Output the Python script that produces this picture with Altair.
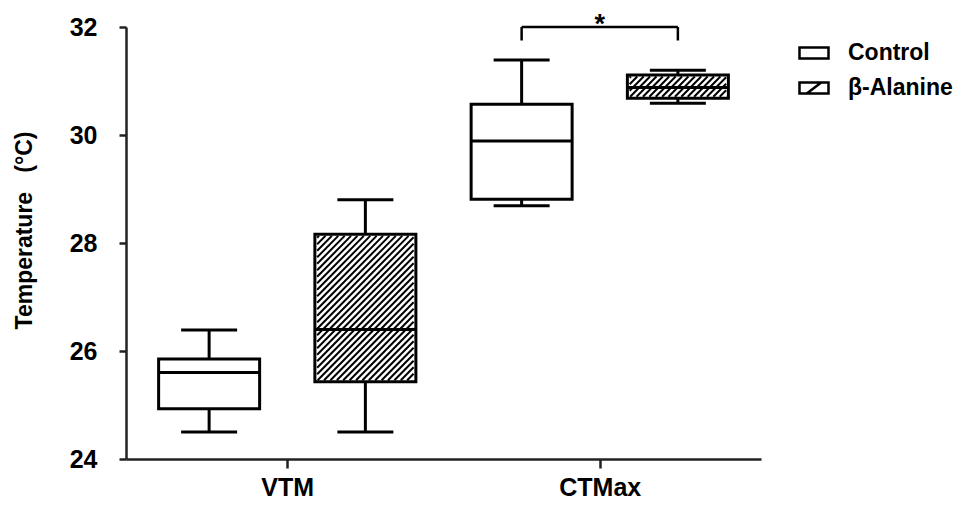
import altair as alt
import pandas as pd

# ---- data ----
tests = ["VTM", "VTM", "CTMax", "CTMax"]
groups = ["Control", "β-Alanine", "Control", "β-Alanine"]
positions = [1, 2, 3, 4]
whisker_low = [24.5, 24.5, 28.69, 30.59]
q1 = [24.93, 25.43, 28.81, 30.68]
median = [25.6, 26.4, 29.89, 30.88]
q3 = [25.85, 28.16, 30.57, 31.11]
whisker_high = [26.39, 28.8, 31.39, 31.2]

test_labels = ["VTM", "CTMax"]
test_label_positions = [1.5, 3.5]
legend_groups = ["Control", "β-Alanine"]
y_ticks = [24, 26, 28, 30, 32]
y_title = "Temperature\u00a0\u00a0\u00a0(°C)"

bracket_x = [3, 4]
bracket_top = 32.0
bracket_tip = 31.75
sig_label = "*"

# ---- layout ----
W, H = 635, 432
XDOM = [0.5, 4.5]
YDOM = [24, 32]
BOX_W = 101
CAP_W = 56
FONT = "Liberation Sans"

df = pd.DataFrame(dict(test=tests, group=groups, pos=positions, lo=whisker_low,
                       q1=q1, med=median, q3=q3, hi=whisker_high))

# hatch segments for the beta-alanine boxes (45 degree lines clipped to the box)
sx = W / (XDOM[1] - XDOM[0])
sy = H / (YDOM[1] - YDOM[0])
rows = []
for p, g, lo, hi in zip(positions, groups, q1, q3):
    if g != "β-Alanine":
        continue
    xl, xr = -BOX_W / 2 + 1.5, BOX_W / 2 - 1.5
    yb = (lo - YDOM[0]) * sy + 1.5
    yt = (hi - YDOM[0]) * sy - 1.5
    c = yb - xr
    while c < yt - xl:
        s = max(xl, yb - c)
        e = min(xr, yt - c)
        if e > s:
            rows.append(dict(x=p + s / sx, y=YDOM[0] + (s + c) / sy,
                             x2=p + e / sx, y2=YDOM[0] + (e + c) / sy))
        c += 6.5
hatch = pd.DataFrame(rows)

xs = alt.Scale(domain=XDOM, nice=False, zero=False)
ys = alt.Scale(domain=YDOM, nice=False, zero=False)

label_expr = " : ".join(
    f"datum.value == {v} ? '{t}'" for v, t in zip(test_label_positions[:-1], test_labels[:-1])
) + f" : '{test_labels[-1]}'"

x_enc = alt.X("pos:Q", scale=xs, axis=alt.Axis(
    values=test_label_positions, labelExpr=label_expr, title=None,
    tickSize=9, labelPadding=7, labelFontSize=25, grid=False))
y_axis = alt.Axis(values=y_ticks, format="d", title=y_title,
                  tickSize=7, labelPadding=22, labelFontSize=25, grid=False,
                  titleFontSize=23, titleX=-102, titleY=203, titleBaseline="middle")

base = alt.Chart(df)

whiskers = base.mark_rule(color="black", strokeWidth=3).encode(
    x=x_enc, y=alt.Y("lo:Q", scale=ys, axis=y_axis), y2="hi:Q")

boxes = base.mark_bar(size=BOX_W, fill="white", stroke="black", strokeWidth=3,
                      opacity=1).encode(x=alt.X("pos:Q", scale=xs),
                                        y=alt.Y("q1:Q", scale=ys), y2="q3:Q")

hatch_layer = alt.Chart(hatch).mark_rule(color="black", strokeWidth=2).encode(
    x=alt.X("x:Q", scale=xs), y=alt.Y("y:Q", scale=ys), x2="x2:Q", y2="y2:Q")

medians = base.mark_tick(orient="horizontal", size=BOX_W, thickness=3,
                         color="black", opacity=1).encode(
    x=alt.X("pos:Q", scale=xs), y=alt.Y("med:Q", scale=ys))

caps_lo = base.mark_tick(orient="horizontal", size=CAP_W, thickness=3,
                         color="black", opacity=1).encode(
    x=alt.X("pos:Q", scale=xs), y=alt.Y("lo:Q", scale=ys))
caps_hi = base.mark_tick(orient="horizontal", size=CAP_W, thickness=3,
                         color="black", opacity=1).encode(
    x=alt.X("pos:Q", scale=xs), y=alt.Y("hi:Q", scale=ys))

rect_path = "M-1,-0.38H1V0.38H-1Z"
hatch_path = "M-1,-0.38H1V0.38H-1Z M-0.5,0.38L0.5,-0.38"
legend_pts = base.mark_point(filled=False, color="black", opacity=0, size=841).encode(
    x=alt.X("pos:Q", scale=xs), y=alt.Y("med:Q", scale=ys),
    shape=alt.Shape("group:N", scale=alt.Scale(domain=legend_groups,
                                               range=[rect_path, hatch_path]),
                    legend=alt.Legend(title=None, orient="none", legendX=672, legendY=10,
                                      symbolOpacity=1, symbolFillColor="white",
                                      symbolStrokeColor="black", symbolStrokeWidth=2.5,
                                      symbolSize=841, labelFontSize=23,
                                      labelFontWeight="bold", labelOffset=18,
                                      rowPadding=7, padding=0, labelColor="black")))

bracket_df = pd.DataFrame(dict(x=[bracket_x[0], bracket_x[0], bracket_x[1]],
                               x2=[bracket_x[1], bracket_x[0], bracket_x[1]],
                               y=[bracket_top, bracket_top, bracket_top],
                               y2=[bracket_top, bracket_tip, bracket_tip]))
bracket = alt.Chart(bracket_df).mark_rule(color="black", strokeWidth=2.5).encode(
    x=alt.X("x:Q", scale=xs), x2="x2:Q", y=alt.Y("y:Q", scale=ys), y2="y2:Q")

star_df = pd.DataFrame(dict(x=[sum(bracket_x) / 2], y=[bracket_top], t=[sig_label]))
star = alt.Chart(star_df).mark_text(fontSize=27, fontWeight="bold", baseline="alphabetic",
                                    dy=6, color="black", font=FONT).encode(
    x=alt.X("x:Q", scale=xs), y=alt.Y("y:Q", scale=ys), text="t:N")

chart = alt.layer(legend_pts, whiskers, boxes, hatch_layer, medians, caps_lo, caps_hi,
                  bracket, star).properties(
    width=W, height=H,
    autosize=alt.AutoSizeParams(type="none"),
    padding={"left": 118, "top": 19, "right": 197, "bottom": 40},
).configure(font=FONT).configure_view(stroke=None).configure_axis(
    domainColor="#222", domainWidth=2.5, tickColor="#222", tickWidth=2.5,
    labelFont=FONT, labelFontWeight="bold", labelColor="black",
    titleFont=FONT, titleFontWeight="bold", titleColor="black",
).configure_legend(labelFont=FONT)

chart.save("out.html", embed_options={"renderer": "svg", "actions": False})
